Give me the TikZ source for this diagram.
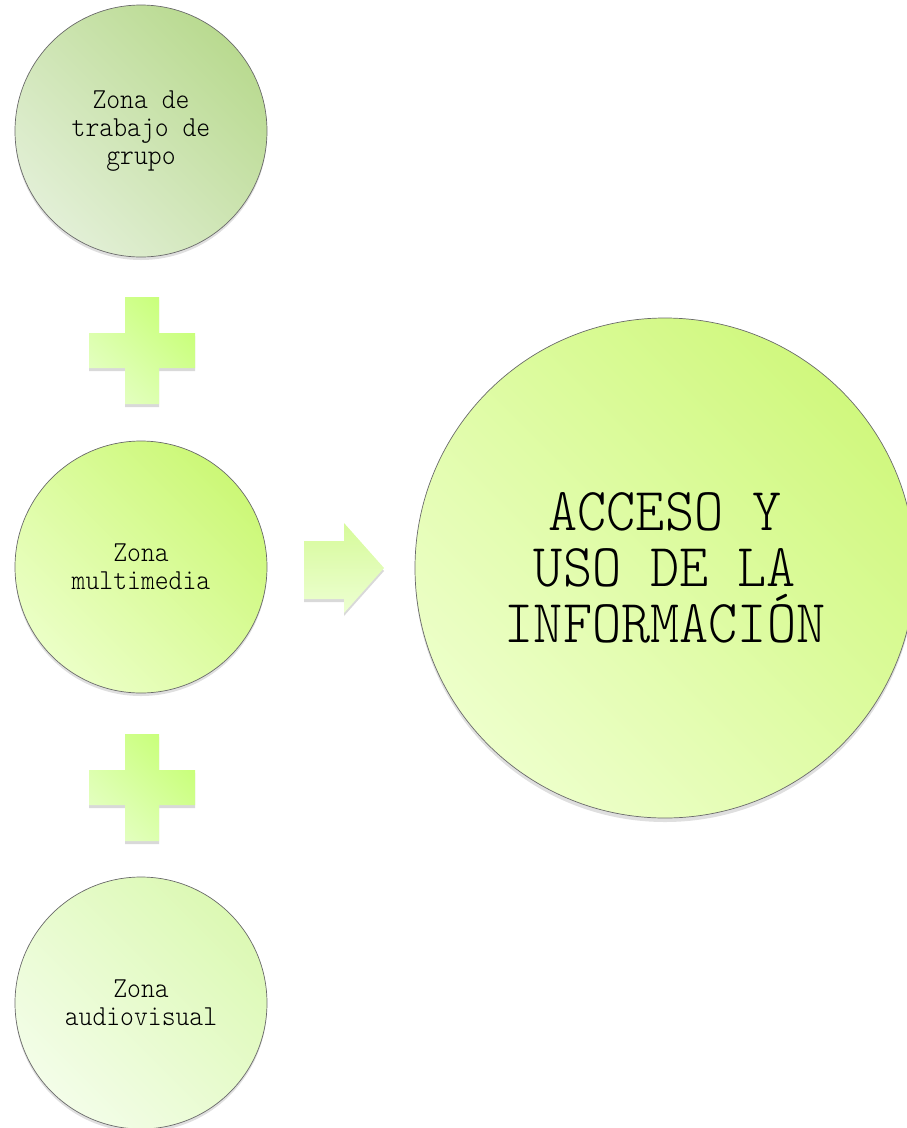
\documentclass[tikz,border=0pt]{standalone}
\usepackage{fontspec}
\newfontfamily\zfont[FakeStretch=0.91]{Latin Modern Mono Light}
\usetikzlibrary{shadows}
\definecolor{rimc}{HTML}{6A6A6A}
\definecolor{topA}{HTML}{B9DA90}
\definecolor{topB}{HTML}{E2EFD6}
\definecolor{midA}{HTML}{CCF877}
\definecolor{midB}{HTML}{EBFFC6}
\definecolor{botA}{HTML}{DCF9B4}
\definecolor{botB}{HTML}{F3FDE8}
\definecolor{bigA}{HTML}{D0F87E}
\definecolor{bigB}{HTML}{EDFFCA}
\definecolor{plusA}{HTML}{C8FF78}
\definecolor{plusB}{HTML}{E4FFC2}
\definecolor{arrA}{HTML}{D6FA9A}
\definecolor{arrB}{HTML}{EDFFD2}
\tikzset{
  zonebase/.style={circle, draw=rimc, line width=0.7pt, inner sep=0pt,
    align=center, text=black},
  zone/.style 2 args={zonebase, minimum size=252pt, top color=#1, bottom color=#2,
    shading angle=-45,
    drop shadow={opacity=0.25, shadow xshift=0pt, shadow yshift=-3pt},
    font={\zfont\fontsize{29}{28}\selectfont}},
  bigzone/.style 2 args={zonebase, minimum size=500pt, top color=#1, bottom color=#2,
    shading angle=-45,
    drop shadow={opacity=0.25, shadow xshift=0pt, shadow yshift=-4pt},
    font={\zfont\fontsize{61}{56}\selectfont}},
  plusshape/.style={draw=none, top color=plusA, bottom color=plusB, shading angle=-45,
    drop shadow={opacity=0.3, shadow xshift=0pt, shadow yshift=-3pt}},
  arrowshape/.style={draw=none, top color=arrA, bottom color=arrB,
    drop shadow={opacity=0.3, shadow xshift=0pt, shadow yshift=-3pt}},
}
\begin{document}
\begin{tikzpicture}[x=1pt,y=-1pt]
\useasboundingbox (0,0) rectangle (907,1128);
\node[zone={topA}{topB}] (z1) at (141,131) {Zona de\\trabajo de\\grupo};
\node[zone={midA}{midB}] (z2) at (141,567) {Zona\\multimedia};
\node[zone={botA}{botB}] (z3) at (141,1003) {Zona\\audiovisual};
\node[bigzone={bigA}{bigB}] (acc) at (665,568) {ACCESO Y\\USO DE LA\\INFORMACIÓN};
% plus signs
\path[plusshape] (125,297) -- (159,297) -- (159,333) -- (195,333) -- (195,368) -- (159,368)
  -- (159,404) -- (125,404) -- (125,368) -- (89,368) -- (89,333) -- (125,333) -- cycle;
\path[plusshape] (125,734) -- (159,734) -- (159,770) -- (195,770) -- (195,805) -- (159,805)
  -- (159,841) -- (125,841) -- (125,805) -- (89,805) -- (89,770) -- (125,770) -- cycle;
% arrow
\path[arrowshape]
  (304,541) -- (344,541) -- (344,523) -- (384,568) -- (344,613) -- (344,599) -- (304,599) -- cycle;
\end{tikzpicture}
\end{document}
